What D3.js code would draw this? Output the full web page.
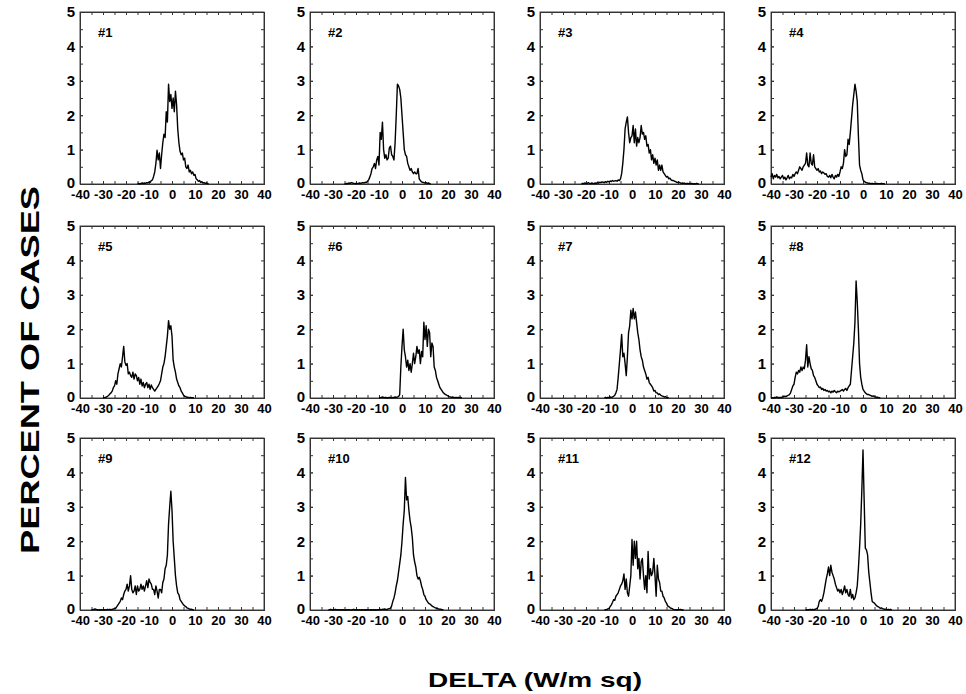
<!DOCTYPE html>
<html>
<head>
<meta charset="utf-8">
<script src="https://d3js.org/d3.v7.min.js"></script>
<style>
  body { margin: 0; background: #fff; }
  text { font-family: "Liberation Sans", Arial, sans-serif; font-weight: bold; fill: #000; }
</style>
</head>
<body>
<div id="my_dataviz"></div>
<script>

// tick labels and panel names
var xTicks = [-40, -30, -20, -10, 0, 10, 20, 30, 40];
var yTicks = [0, 1, 2, 3, 4, 5];
var panelNames = ["#1", "#2", "#3", "#4", "#5", "#6", "#7", "#8", "#9", "#10", "#11", "#12"];

// histogram values, one value every 0.5 W/m sq starting at starts[i]
var step = 0.5;
var starts = [-15, -25, -22, -40, -30, -10, -12, -40, -35, -32, -12, -25];

var p1 = [0.01,0.02,0,0.02,0.03,0.01,0.03,0.02,0.04,0.03,
  0.06,0.05,0.1,0.12,0.22,0.35,0.6,0.98,0.7,0.9,
  0.45,0.85,1.2,1.45,1.35,2.1,1.8,2.9,2.4,2.6,
  2.2,2.5,2.1,2.7,2.3,1.6,1.2,0.95,0.85,0.9,
  0.7,0.75,0.5,0.45,0.55,0.35,0.4,0.3,0.35,0.25,
  0.28,0.15,0.12,0.08,0.1,0.05,0.07,0.03,0.04,0.02,
  0.03,0.01,0];
var p2 = [0.01,0,0.02,0.01,0.03,0.02,0.04,0.03,0.02,0.01,
  0.02,0.01,0.02,0.03,0.02,0.03,0.04,0.03,0.05,0.04,
  0.08,0.12,0.2,0.3,0.45,0.5,0.6,0.45,0.7,0.8,
  0.55,1.5,1.3,1.8,1.0,0.75,0.85,0.7,0.75,1.05,
  1.1,0.85,0.8,0.7,1.2,2.0,2.9,2.85,2.75,2.5,
  2.0,1.5,1.0,0.85,0.8,0.6,0.5,0.4,0.45,0.35,
  0.3,0.35,0.3,0.3,0.45,0.15,0.1,0.06,0.05,0.04,
  0.03,0.04,0.02,0.03,0.01,0];
var p3 = [0,0.02,0.01,0.03,0.01,0.02,0.04,0.02,0.01,0.03,
  0.02,0.01,0.03,0.02,0.04,0.03,0.05,0.04,0.06,0.05,
  0.04,0.07,0.05,0.08,0.06,0.09,0.07,0.1,0.08,0.09,
  0.1,0.08,0.12,0.1,0.15,0.3,0.6,1.0,1.6,1.8,
  1.95,1.5,1.2,1.35,1.4,1.7,1.2,1.6,1.1,1.35,
  1.2,1.35,1.7,1.45,1.5,1.3,1.4,1.1,1.15,0.9,
  1.0,0.7,0.85,0.6,0.75,0.55,0.7,0.4,0.55,0.4,
  0.55,0.35,0.3,0.25,0.2,0.22,0.15,0.17,0.12,0.1,
  0.1,0.08,0.07,0.05,0.04,0.05,0.03,0.02,0.03,0.02,
  0.02,0.01,0.02,0.01,0.02,0.01,0.02,0,0.01,0,
  0.02,0.01,0];
var p4 = [0.2,0.3,0.15,0.25,0.2,0.28,0.18,0.22,0.15,0.2,
  0.25,0.15,0.2,0.12,0.18,0.25,0.15,0.2,0.18,0.28,
  0.22,0.3,0.35,0.3,0.4,0.5,0.45,0.4,0.5,0.55,
  0.6,0.9,0.55,0.5,0.9,0.6,0.55,0.85,0.5,0.45,
  0.4,0.45,0.35,0.38,0.3,0.35,0.32,0.28,0.3,0.22,
  0.2,0.25,0.18,0.28,0.2,0.15,0.25,0.2,0.28,0.22,
  0.35,0.5,0.45,0.6,1.0,0.8,0.85,1.3,1.15,1.5,
  1.9,2.3,2.6,2.9,2.7,2.4,1.4,0.55,0.4,0.3,
  0.12,0.08,0.05,0.04,0.03,0.02,0.02,0.01,0.02,0.01,
  0.01,0.01,0.02,0.01,0.01,0.01,0.02,0.01,0.01,0];
var p5 = [0,0.01,0.02,0.03,0.05,0.08,0.12,0.15,0.2,0.3,
  0.35,0.5,0.4,0.7,0.85,1.0,0.9,1.2,1.5,1.05,
  0.95,1.0,0.7,0.75,0.65,0.6,0.75,0.55,0.7,0.65,
  0.5,0.6,0.4,0.55,0.35,0.45,0.3,0.4,0.45,0.3,
  0.4,0.25,0.38,0.3,0.25,0.2,0.25,0.3,0.35,0.42,
  0.5,0.7,0.9,1.0,1.2,1.5,1.8,2.25,2.0,2.1,
  1.8,1.1,0.9,0.75,0.55,0.45,0.35,0.3,0.2,0.15,
  0.08,0.05,0.04,0.02,0.02,0.01,0.02,0.01,0.01,0];
var p6 = [0,0.01,0.02,0.03,0.02,0.01,0.02,0,0.01,0.02,
  0.01,0.02,0.01,0.02,0.03,0.02,0.03,0.04,0.1,0.9,
  1.5,2.0,1.4,1.2,0.9,1.1,0.8,1.0,0.75,1.0,
  1.3,1.0,1.2,1.5,1.3,1.4,1.0,1.35,1.2,2.2,
  1.7,2.1,1.5,2.0,1.9,1.2,1.6,1.5,0.9,0.8,
  0.6,0.5,0.4,0.3,0.25,0.2,0.15,0.12,0.1,0.08,
  0.06,0.04,0.03,0.02,0.03,0.02,0.01,0.02,0.01,0.02,
  0.01,0.02,0];
var p7 = [0.01,0.02,0,0.02,0.01,0.03,0.02,0.03,0.05,0.08,
  0.15,0.25,0.6,1.0,1.4,1.85,1.2,1.3,1.0,0.65,
  1.2,1.9,2.1,2.55,2.3,2.6,2.3,2.5,2.2,1.9,
  1.7,1.4,1.2,1.1,0.9,0.8,0.7,0.55,0.6,0.45,
  0.4,0.35,0.3,0.2,0.22,0.15,0.15,0.1,0.12,0.08,
  0.06,0.05,0.03,0.04,0.02,0.01,0];
var p8 = [0,0.01,0,0.02,0.01,0.03,0.02,0.01,0.02,0.01,
  0.03,0.04,0.05,0.04,0.06,0.08,0.1,0.15,0.25,0.35,
  0.4,0.6,0.75,0.7,0.8,0.75,0.9,0.8,0.9,0.85,
  1.1,1.55,0.9,1.2,1.0,0.85,0.8,0.65,0.6,0.5,
  0.4,0.35,0.3,0.32,0.25,0.28,0.22,0.25,0.2,0.22,
  0.18,0.2,0.15,0.2,0.17,0.22,0.18,0.15,0.2,0.18,
  0.2,0.22,0.25,0.2,0.25,0.28,0.22,0.3,0.35,0.4,
  0.8,1.2,1.6,2.2,3.4,2.8,2.0,1.0,0.6,0.4,
  0.25,0.2,0.15,0.12,0.1,0.1,0.08,0.07,0.05,0.06,
  0.04,0.03,0.02,0.02,0.01,0];
var p9 = [0,0.01,0.02,0.03,0.02,0.01,0,0.01,0,0.01,
  0,0.01,0,0.01,0.02,0.01,0.02,0.01,0.02,0.03,
  0.04,0.05,0.1,0.15,0.2,0.25,0.35,0.3,0.45,0.55,
  0.6,0.75,0.55,0.7,1.0,0.6,0.5,0.55,0.7,0.45,
  0.7,0.55,0.6,0.75,0.6,0.7,0.55,0.7,0.85,0.65,
  0.9,0.8,0.75,0.6,0.6,0.45,0.7,0.55,0.35,0.6,
  0.6,0.5,0.8,0.9,1.2,1.3,1.6,2.5,3.0,3.45,
  2.9,2.0,1.5,1.0,0.7,0.5,0.45,0.3,0.25,0.2,
  0.15,0.12,0.1,0.06,0.05,0.03,0.02,0.02,0.01,0];
var p10 = [0,0.01,0.02,0.01,0,0.01,0.02,0.01,0,0.01,
  0,0.01,0,0.01,0,0,0.01,0,0.01,0,
  0,0.01,0.02,0.01,0,0.01,0,0.01,0,0.01,
  0,0.01,0,0.01,0,0.01,0,0.01,0,0.01,
  0,0.01,0,0.01,0.01,0.02,0.01,0.02,0.02,0.03,
  0.01,0.02,0.03,0.04,0.05,0.12,0.25,0.35,0.5,0.7,
  0.85,1.1,1.35,1.6,2.0,2.5,2.9,3.85,3.2,3.3,
  2.9,2.6,2.4,2.1,1.6,1.4,1.25,1.0,0.9,0.95,
  0.85,0.7,0.6,0.45,0.4,0.3,0.25,0.2,0.18,0.15,
  0.12,0.1,0.08,0.06,0.05,0.04,0.03,0.02,0.02,0.01,
  0];
var p11 = [0,0.01,0.01,0.03,0.05,0.1,0.15,0.22,0.3,0.28,
  0.4,0.45,0.5,0.6,0.7,0.75,0.85,1.05,0.6,0.9,
  0.5,0.4,0.7,1.0,2.05,1.3,2.0,1.5,2.0,1.2,
  1.5,0.9,1.4,1.5,1.0,0.6,1.0,0.5,1.7,0.9,
  1.2,1.0,1.1,1.5,1.0,0.4,1.3,0.9,0.8,0.55,
  0.55,0.4,0.35,0.25,0.2,0.12,0.1,0.07,0.05,0.04,
  0.02,0.01,0.01,0,0.01,0.01,0.02,0.01,0,0];
var p12 = [0,0.01,0,0.01,0.02,0.01,0.02,0.01,0.02,0.03,
  0.05,0.1,0.25,0.3,0.25,0.35,0.5,0.7,0.9,1.05,
  1.25,1.0,1.3,1.1,1.0,0.9,0.75,0.65,0.55,0.6,
  0.5,0.6,0.45,0.55,0.7,0.5,0.6,0.45,0.4,0.6,
  0.35,0.45,0.3,0.35,0.5,0.7,1.2,1.8,2.5,3.5,
  4.65,3.2,1.8,1.75,1.6,1.1,0.8,0.5,0.25,0.22,
  0.2,0.15,0.12,0.1,0.08,0.05,0.06,0.04,0.03,0.02,
  0.02,0.01,0.02,0.01,0.02,0];

var series = [p1, p2, p3, p4, p5, p6, p7, p8, p9, p10, p11, p12];

// layout
var W = 966, H = 694;
var colLeft = [80, 310, 540, 771];
var rowTop = [12, 226, 438];
var pw = 184, ph = 172;

var svg = d3.select("#my_dataviz")
  .append("svg")
    .attr("width", W)
    .attr("height", H);

var x = d3.scaleLinear().domain([-40, 40]).range([0, pw]);
var y = d3.scaleLinear().domain([0, 5]).range([ph, 0]);

var xMinor = d3.range(-40, 41, 5);
var yMinor = d3.range(0, 5.01, 0.5);

var line = d3.line()
  .x(function (d) { return x(d[0]); })
  .y(function (d) { return y(d[1]); });

series.forEach(function (vals, k) {
  var g = svg.append("g")
    .attr("transform", "translate(" + colLeft[k % 4] + "," + rowTop[Math.floor(k / 4)] + ")");

  // frame
  g.append("rect")
    .attr("width", pw).attr("height", ph)
    .attr("fill", "none")
    .attr("stroke", "#444")
    .attr("stroke-width", 1);

  // minor ticks on all four sides (no labels)
  g.append("g").attr("transform", "translate(0," + ph + ")")
    .call(d3.axisBottom(x).tickValues(xMinor).tickSize(-3))
    .selectAll("text").remove();
  g.append("g")
    .call(d3.axisTop(x).tickValues(xMinor).tickSize(-3))
    .selectAll("text").remove();
  g.append("g")
    .call(d3.axisLeft(y).tickValues(yMinor).tickSize(-3))
    .selectAll("text").remove();
  g.append("g").attr("transform", "translate(" + pw + ",0)")
    .call(d3.axisRight(y).tickValues(yMinor).tickSize(-3))
    .selectAll("text").remove();

  // labelled axes (plain hyphen for minus, as in the original)
  var bx = g.append("g")
    .attr("transform", "translate(0," + ph + ")")
    .call(d3.axisBottom(x).tickValues(xTicks).tickSize(-3).tickPadding(6)
      .tickFormat(function (d) { return String(d); }));
  bx.selectAll("text").style("font-size", "13px").attr("dy", "0.72em");

  var ly = g.append("g")
    .call(d3.axisLeft(y).tickValues(yTicks).tickSize(-3).tickPadding(5)
      .tickFormat(function (d) { return String(d); }));
  ly.selectAll("text").style("font-size", "15px");
  ly.selectAll(".tick").filter(function (d) { return d === 0; })
    .select("text").attr("dy", "0.2em");

  g.selectAll(".domain").attr("stroke", "#333");
  g.selectAll(".tick line").attr("stroke", "#333");

  // histogram line
  var pts = vals.map(function (v, i) { return [starts[k] + i * step, v]; });
  g.append("path")
    .datum(pts)
    .attr("fill", "none")
    .attr("stroke", "#000")
    .attr("stroke-width", 1.4)
    .attr("stroke-linejoin", "round")
    .attr("d", line);

  // panel label
  g.append("text")
    .attr("x", 18)
    .attr("y", 25)
    .style("font-size", "13px")
    .text(panelNames[k]);
});

// Y axis title
svg.append("text")
  .attr("transform", "translate(39,370) rotate(-90)")
  .style("text-anchor", "middle")
  .style("font-size", "25px")
  .attr("textLength", 368)
  .attr("lengthAdjust", "spacingAndGlyphs")
  .text("PERCENT OF CASES");

// X axis title
svg.append("text")
  .attr("x", 535)
  .attr("y", 687)
  .style("text-anchor", "middle")
  .style("font-size", "21px")
  .attr("textLength", 214)
  .attr("lengthAdjust", "spacingAndGlyphs")
  .text("DELTA (W/m sq)");

</script>
</body>
</html>
